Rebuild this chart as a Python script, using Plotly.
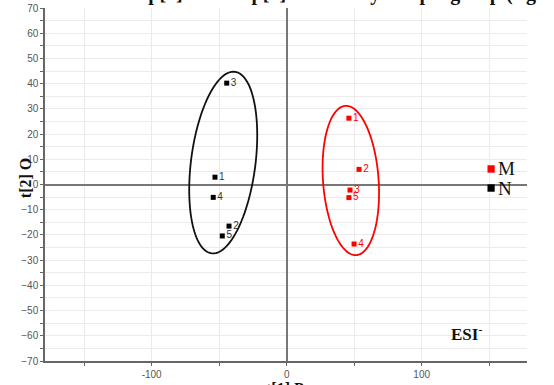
import numpy as np
import plotly.graph_objects as go

# Score values t[1] / t[2] per sample
m_labels = ["1", "2", "3", "4", "5"]
m_t1 = [46.1, 53.6, 46.9, 49.9, 46.1]
m_t2 = [26.3, 6.0, -2.2, -23.6, -5.2]

n_labels = ["1", "2", "3", "4", "5"]
n_t1 = [-53.1, -42.7, -44.4, -54.4, -47.7]
n_t2 = [2.9, -16.5, 40.2, -5.1, -20.4]

# Confidence ellipses: centre, semi-major vector, semi-minor vector (data units)
m_ellipse = dict(center=(47.5, 1.6), major=(-3.07, 29.6), minor=(20.7, -0.62))
n_ellipse = dict(center=(-47.0, 8.7), major=(8.63, 36.0), minor=(23.66, -1.62))

groups = ["M", "N"]
group_colors = {"M": "#ff0000", "N": "#000000"}
SERIF = "Liberation Serif, Times New Roman"
SANS = "Arial, Liberation Sans"


def ellipse_path(e, n=120):
    t = np.linspace(0, 2 * np.pi, n)
    cx, cy = e["center"]
    ax, ay = e["major"]
    bx, by = e["minor"]
    xs = cx + ax * np.cos(t) + bx * np.sin(t)
    ys = cy + ay * np.cos(t) + by * np.sin(t)
    pts = [f"{x:.3f},{y:.3f}" for x, y in zip(xs, ys)]
    return "M " + " L ".join(pts) + " Z"


fig = go.Figure()
fig.add_trace(go.Scatter(
    x=m_t1, y=m_t2, mode="markers+text", name="M",
    text=m_labels, textposition="middle right",
    textfont=dict(family=SANS, size=10, color=group_colors["M"]),
    marker=dict(symbol="square", size=5, color=group_colors["M"]),
))
fig.add_trace(go.Scatter(
    x=n_t1, y=n_t2, mode="markers+text", name="N",
    text=n_labels, textposition="middle right",
    textfont=dict(family=SANS, size=10, color="#333333"),
    marker=dict(symbol="square", size=5, color=group_colors["N"]),
))

fig.add_shape(type="path", path=ellipse_path(m_ellipse), xref="x", yref="y",
              line=dict(color=group_colors["M"], width=1.8))
fig.add_shape(type="path", path=ellipse_path(n_ellipse), xref="x", yref="y",
              line=dict(color="#111111", width=1.8))

# Group key at the right edge: square swatch + letter
key_x = 0.9255          # swatch centre, paper fraction
key_y = [0.544, 0.490]  # rows, paper fraction
half_w, half_h = 0.0075, 0.0105
for g, ky in zip(groups, key_y):
    fig.add_shape(type="rect", xref="paper", yref="paper",
                  x0=key_x - half_w, x1=key_x + half_w,
                  y0=ky - half_h, y1=ky + half_h,
                  fillcolor=group_colors[g], line=dict(width=0))
    fig.add_annotation(x=key_x + 0.011, y=ky, xref="paper", yref="paper",
                       showarrow=False, xanchor="left", yanchor="middle",
                       text=g, font=dict(family=SERIF, size=19, color="#111111"))

fig.add_annotation(
    x=0.875, y=0.079, xref="paper", yref="paper", showarrow=False,
    text="<b>ESI</b><sup>-</sup>", xanchor="center", yanchor="middle",
    font=dict(family=SERIF, size=17, color="#111111"),
)

# Axis titles
fig.add_annotation(
    x=0.498, y=-0.079, xref="paper", yref="paper", showarrow=False,
    xanchor="center", yanchor="middle", text="<b>t[1] P</b>",
    font=dict(family=SERIF, size=16, color="#111111"),
)
fig.add_annotation(
    x=-0.0415, y=0.518, xref="paper", yref="paper", showarrow=False,
    xanchor="center", yanchor="middle", text="<b>t[2] O</b>", textangle=-90,
    font=dict(family=SERIF, size=16, color="#111111"),
)

# Title line sitting above the canvas edge
fig.add_annotation(
    x=0.0, y=1.0, xref="paper", yref="paper", showarrow=False,
    xanchor="left", yanchor="bottom", yshift=1,
    text="<b>Scores Comp[1] vs Comp[2] colored by sample group (significance)</b>",
    font=dict(family=SERIF, size=20, color="#111111"),
)

axis_common = dict(
    showline=True, linecolor="#666666", linewidth=1.5,
    ticks="outside", ticklen=3, tickcolor="#666666", tickwidth=1,
    tickfont=dict(family=SANS, size=10, color="#555555"),
    showgrid=True, gridcolor="#ebebeb", gridwidth=1,
    zeroline=True, zerolinecolor="#777777", zerolinewidth=1.5,
    mirror=False, automargin=False,
)

fig.update_layout(
    width=554, height=385,
    margin=dict(l=45, r=27, t=8, b=24),
    plot_bgcolor="white", paper_bgcolor="white",
    xaxis=dict(
        range=[-179, 178],
        tickvals=[-150, -100, -50, 0, 50, 100, 150],
        ticktext=["", "-100", "", "0", "", "100", ""],
        **axis_common,
    ),
    yaxis=dict(
        range=[-70, 70], dtick=10, tick0=0,
        minor=dict(dtick=5, ticks="outside", ticklen=3, tickcolor="#666666",
                   showgrid=True, gridcolor="#ebebeb"),
        **axis_common,
    ),
    showlegend=False,
)

fig.write_html("out.html")
